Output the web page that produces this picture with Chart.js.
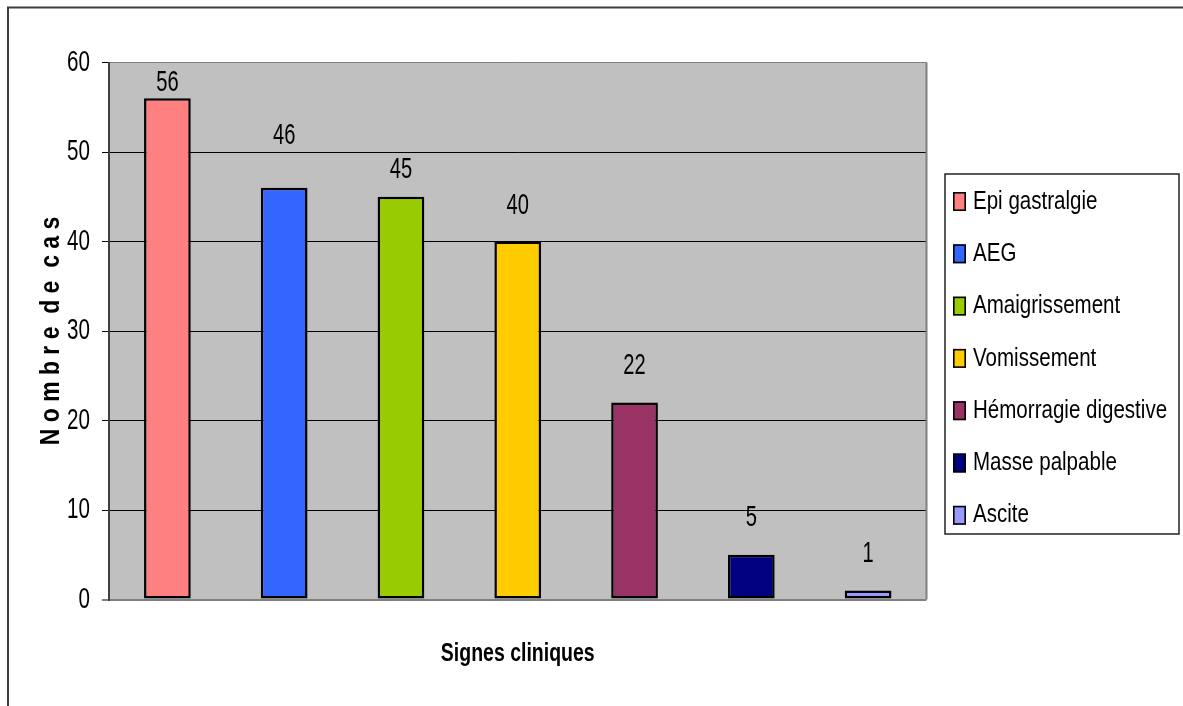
<!DOCTYPE html>
<html lang="fr">
<head>
<meta charset="utf-8">
<title>Signes cliniques</title>
<script src="https://cdn.jsdelivr.net/npm/chart.js@4.4.1/dist/chart.umd.min.js"></script>
<style>
  html, body { margin: 0; padding: 0; background: #ffffff; }
  canvas { display: block; }
</style>
</head>
<body>
<canvas id="chart" width="1183" height="706"></canvas>
<script>
// Clinical signs and number of cases
const categories = ['Epi gastralgie', 'AEG', 'Amaigrissement', 'Vomissement', 'Hémorragie digestive', 'Masse palpable', 'Ascite'];
const cases = [56, 46, 45, 40, 22, 5, 1];
const yTicks = [0, 10, 20, 30, 40, 50, 60];

// Styling
const barColors = ['#FF8080', '#3366FF', '#99CC00', '#FFCC00', '#993366', '#000080', '#9999FF'];
const labelLift = [16, 52, 27, 36, 37, 37, 37];   // value label height above each bar top (px)
const FONT = "'Liberation Sans', Arial, sans-serif";

// Condensed lettering: squeeze text along its own direction.
const SQUEEZE = { plain: 0.71, bold: 0.75, rotated: 0.82 };
const nativeFillText = CanvasRenderingContext2D.prototype.fillText;
CanvasRenderingContext2D.prototype.fillText = function (text, x, y, maxWidth) {
  const m = this.getTransform();
  let k;
  if (this.textSqueeze) k = this.textSqueeze;
  else if (Math.abs(m.b) > 1e-6) k = SQUEEZE.rotated;
  else k = /bold/.test(this.font) ? SQUEEZE.bold : SQUEEZE.plain;
  this.save();
  this.translate(x, y);
  this.scale(k, 1);
  if (maxWidth === undefined) nativeFillText.call(this, text, 0, 0);
  else nativeFillText.call(this, text, 0, 0, maxWidth / k);
  this.restore();
};

// Page frame and grey plotting area
const backdrop = {
  id: 'backdrop',
  beforeDraw(chart) {
    const { ctx, chartArea: a } = chart;
    ctx.save();
    ctx.fillStyle = '#ffffff';
    ctx.fillRect(0, 0, chart.width, chart.height);
    ctx.strokeStyle = '#3c3c3c';
    ctx.lineWidth = 2;
    ctx.beginPath();
    ctx.moveTo(8, chart.height + 5);
    ctx.lineTo(8, 7.5);
    ctx.lineTo(chart.width + 5, 7.5);
    ctx.stroke();
    ctx.fillStyle = '#C0C0C0';
    ctx.fillRect(a.left, a.top, a.right - a.left, a.bottom - a.top);
    ctx.restore();
  },
  beforeDatasetsDraw(chart) {
    const { ctx, chartArea: a } = chart;
    ctx.save();
    ctx.strokeStyle = '#808080';
    ctx.lineWidth = 2;
    ctx.beginPath();
    ctx.moveTo(a.right, a.top);
    ctx.lineTo(a.right, a.bottom);
    ctx.stroke();
    ctx.restore();
  }
};

// Value above each bar
const valueLabels = {
  id: 'valueLabels',
  afterDatasetsDraw(chart) {
    const { ctx } = chart;
    const meta = chart.getDatasetMeta(0);
    ctx.save();
    ctx.font = '30px ' + FONT;
    ctx.fillStyle = '#000000';
    ctx.textAlign = 'center';
    ctx.textBaseline = 'middle';
    ctx.textSqueeze = 0.67;
    meta.data.forEach((bar, i) => {
      ctx.fillText(String(cases[i]), bar.x, bar.y - labelLift[i]);
    });
    ctx.textSqueeze = 0;
    ctx.restore();
  }
};

// Boxed legend listing each sign with its colour
const boxedLegend = {
  id: 'boxedLegend',
  afterDraw(chart) {
    const { ctx } = chart;
    const box = { left: 945, top: 174, right: 1179, bottom: 534 };
    const firstRow = 201.5, rowStep = 52.3;
    ctx.save();
    ctx.strokeStyle = '#222222';
    ctx.lineWidth = 1.5;
    ctx.strokeRect(box.left, box.top, box.right - box.left, box.bottom - box.top);
    ctx.font = '26px ' + FONT;
    ctx.textAlign = 'left';
    ctx.textBaseline = 'middle';
    ctx.textSqueeze = 0.79;
    categories.forEach((name, i) => {
      const cy = firstRow + i * rowStep;
      ctx.fillStyle = barColors[i];
      ctx.fillRect(953, cy - 9.5, 13, 19);
      ctx.strokeStyle = '#000000';
      ctx.lineWidth = 1.6;
      ctx.strokeRect(953.8, cy - 8.7, 11.4, 17.4);
      ctx.fillStyle = '#000000';
      ctx.fillText(name, 973, cy);
    });
    ctx.textSqueeze = 0;
    ctx.restore();
  }
};

Chart.defaults.font.family = FONT;
Chart.defaults.color = '#000000';

new Chart(document.getElementById('chart'), {
  type: 'bar',
  data: {
    labels: categories,
    datasets: [{
      label: 'Nombre de cas',
      data: cases,
      backgroundColor: barColors,
      borderColor: '#000000',
      borderWidth: 2.5,
      borderSkipped: false,
      barPercentage: 0.4,
      categoryPercentage: 1.0
    }]
  },
  options: {
    responsive: false,
    devicePixelRatio: 1,
    animation: false,
    layout: { padding: { left: 30, top: 62.5, right: 256.5, bottom: 0 } },
    plugins: {
      legend: { display: false },
      tooltip: { enabled: false }
    },
    scales: {
      x: {
        type: 'category',
        offset: true,
        ticks: { display: false },
        grid: { display: false, drawTicks: false },
        border: { display: false },
        title: {
          display: true,
          text: 'Signes cliniques',
          font: { size: 26, weight: 'bold' },
          color: '#000000',
          padding: { top: 0, bottom: 37 }
        },
        afterFit(scale) { scale.height = 106.5; }
      },
      y: {
        min: 0,
        max: 60,
        afterBuildTicks(scale) { scale.ticks = yTicks.map(v => ({ value: v })); },
        ticks: {
          font: { size: 29 },
          color: '#000000',
          padding: 12
        },
        grid: {
          color: c => (c.tick && (c.tick.value === 0 || c.tick.value === 60)) ? '#808080' : '#000000',
          lineWidth: c => (c.tick && c.tick.value === 0) ? 2 : 1,
          tickColor: '#000000',
          tickLength: 7,
          tickWidth: 1
        },
        border: { color: '#404040', width: 2 },
        title: {
          display: true,
          text: 'N o m b r e  d e  c a s',
          font: { size: 28, weight: 'bold' },
          color: '#000000',
          padding: { top: 4, bottom: 4 }
        },
        afterFit(scale) { scale.width = 79; }
      }
    }
  },
  plugins: [backdrop, valueLabels, boxedLegend]
});
</script>
</body>
</html>
